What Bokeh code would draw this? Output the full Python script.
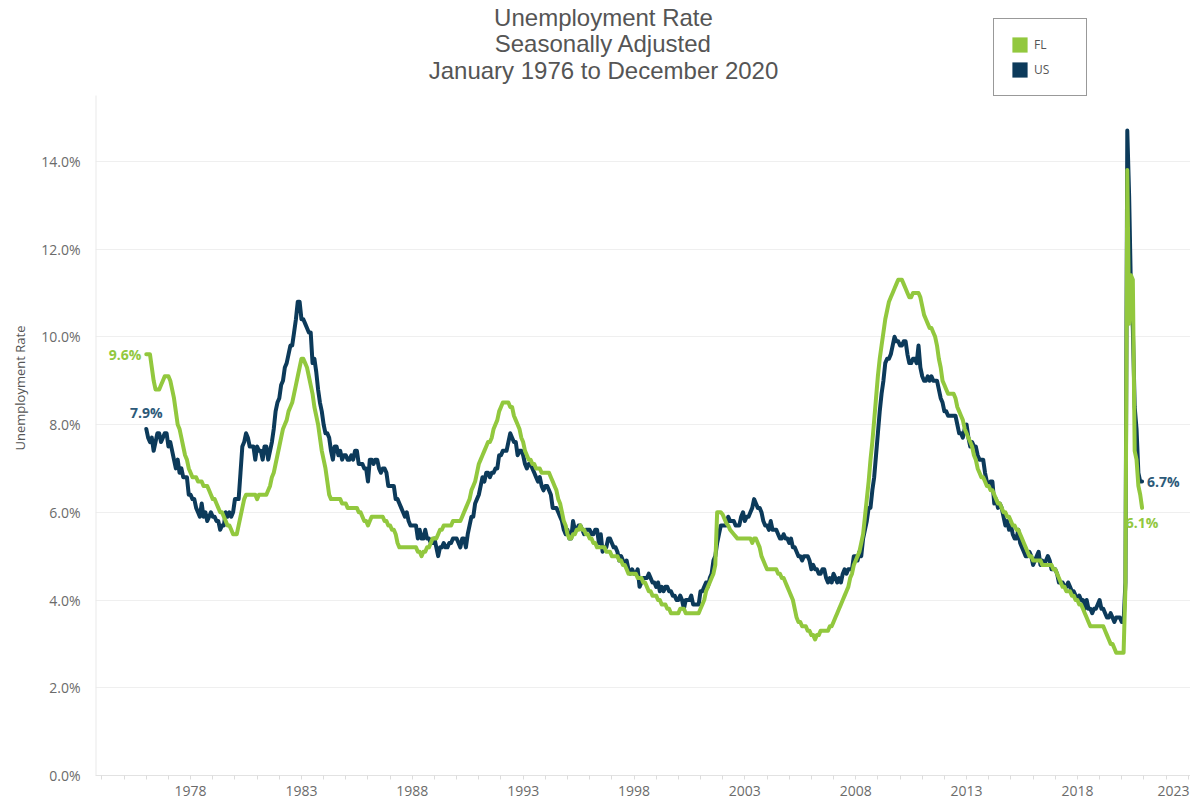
from bokeh.plotting import figure
from bokeh.models import FixedTicker, Label, Legend, LegendItem
from bokeh.embed import file_html
from bokeh.resources import INLINE

# ---------------- data ----------------
start_year = 1976
series_names = ["FL", "US"]

us_rate = [
    7.9, 7.7, 7.6, 7.7, 7.4, 7.6, 7.8, 7.8, 7.6, 7.7, 7.8, 7.8,      # 1976
    7.5, 7.6, 7.4, 7.2, 7.0, 7.2, 6.9, 7.0, 6.8, 6.8, 6.8, 6.4,      # 1977
    6.4, 6.3, 6.3, 6.1, 6.0, 5.9, 6.2, 5.9, 6.0, 5.8, 5.9, 6.0,      # 1978
    5.9, 5.9, 5.8, 5.8, 5.6, 5.7, 5.7, 6.0, 5.9, 6.0, 5.9, 6.0,      # 1979
    6.3, 6.3, 6.3, 6.9, 7.5, 7.6, 7.8, 7.7, 7.5, 7.5, 7.5, 7.2,      # 1980
    7.5, 7.4, 7.4, 7.2, 7.5, 7.5, 7.2, 7.4, 7.6, 7.9, 8.3, 8.5,      # 1981
    8.6, 8.9, 9.0, 9.3, 9.4, 9.6, 9.8, 9.8, 10.1, 10.4, 10.8, 10.8,  # 1982
    10.4, 10.4, 10.3, 10.2, 10.1, 10.1, 9.4, 9.5, 9.2, 8.8, 8.5, 8.3,  # 1983
    8.0, 7.8, 7.8, 7.7, 7.4, 7.2, 7.5, 7.5, 7.3, 7.4, 7.2, 7.3,      # 1984
    7.3, 7.2, 7.2, 7.3, 7.2, 7.4, 7.4, 7.1, 7.1, 7.1, 7.0, 7.0,      # 1985
    6.7, 7.2, 7.2, 7.1, 7.2, 7.2, 7.0, 6.9, 7.0, 7.0, 6.9, 6.6,      # 1986
    6.6, 6.6, 6.6, 6.3, 6.3, 6.2, 6.1, 6.0, 5.9, 6.0, 5.8, 5.7,      # 1987
    5.7, 5.7, 5.7, 5.4, 5.6, 5.4, 5.4, 5.6, 5.4, 5.4, 5.3, 5.3,      # 1988
    5.4, 5.2, 5.0, 5.2, 5.2, 5.3, 5.2, 5.2, 5.3, 5.3, 5.4, 5.4,      # 1989
    5.4, 5.3, 5.2, 5.4, 5.4, 5.2, 5.5, 5.7, 5.9, 5.9, 6.2, 6.3,      # 1990
    6.4, 6.6, 6.8, 6.7, 6.9, 6.9, 6.8, 6.9, 6.9, 7.0, 7.0, 7.3,      # 1991
    7.3, 7.4, 7.4, 7.4, 7.6, 7.8, 7.7, 7.6, 7.6, 7.3, 7.4, 7.4,      # 1992
    7.3, 7.1, 7.0, 7.1, 7.1, 7.0, 6.9, 6.8, 6.7, 6.8, 6.6, 6.5,      # 1993
    6.6, 6.6, 6.5, 6.4, 6.1, 6.1, 6.1, 6.0, 5.9, 5.8, 5.6, 5.5,      # 1994
    5.6, 5.4, 5.4, 5.8, 5.6, 5.6, 5.7, 5.7, 5.6, 5.5, 5.6, 5.6,      # 1995
    5.6, 5.5, 5.5, 5.6, 5.6, 5.3, 5.5, 5.1, 5.2, 5.2, 5.4, 5.4,      # 1996
    5.3, 5.2, 5.2, 5.1, 4.9, 5.0, 4.9, 4.8, 4.9, 4.7, 4.6, 4.7,      # 1997
    4.6, 4.6, 4.7, 4.3, 4.4, 4.5, 4.5, 4.5, 4.6, 4.5, 4.4, 4.4,      # 1998
    4.3, 4.4, 4.2, 4.3, 4.2, 4.3, 4.3, 4.2, 4.2, 4.1, 4.1, 4.0,      # 1999
    4.0, 4.1, 4.0, 3.8, 4.0, 4.0, 4.0, 4.1, 3.9, 3.9, 3.9, 3.9,      # 2000
    4.2, 4.2, 4.3, 4.4, 4.3, 4.5, 4.6, 4.9, 5.0, 5.3, 5.5, 5.7,      # 2001
    5.7, 5.7, 5.7, 5.9, 5.8, 5.8, 5.8, 5.7, 5.7, 5.7, 5.9, 6.0,      # 2002
    5.8, 5.9, 5.9, 6.0, 6.1, 6.3, 6.2, 6.1, 6.1, 6.0, 5.8, 5.7,      # 2003
    5.7, 5.6, 5.8, 5.6, 5.6, 5.6, 5.5, 5.4, 5.4, 5.5, 5.4, 5.4,      # 2004
    5.3, 5.4, 5.2, 5.2, 5.1, 5.0, 5.0, 4.9, 5.0, 5.0, 5.0, 4.9,      # 2005
    4.7, 4.8, 4.7, 4.7, 4.6, 4.6, 4.7, 4.7, 4.5, 4.4, 4.5, 4.4,      # 2006
    4.6, 4.5, 4.4, 4.5, 4.4, 4.6, 4.7, 4.6, 4.7, 4.7, 4.7, 5.0,      # 2007
    5.0, 4.9, 5.1, 5.0, 5.4, 5.6, 5.8, 6.1, 6.1, 6.5, 6.8, 7.3,      # 2008
    7.8, 8.3, 8.7, 9.0, 9.4, 9.5, 9.5, 9.6, 9.8, 10.0, 9.9, 9.9,     # 2009
    9.8, 9.8, 9.9, 9.9, 9.6, 9.4, 9.4, 9.5, 9.5, 9.4, 9.8, 9.3,      # 2010
    9.1, 9.0, 9.0, 9.1, 9.0, 9.1, 9.0, 9.0, 9.0, 8.8, 8.6, 8.5,      # 2011
    8.3, 8.3, 8.2, 8.2, 8.2, 8.2, 8.2, 8.0, 7.8, 7.8, 7.7, 7.9,      # 2012
    8.0, 7.7, 7.5, 7.6, 7.5, 7.5, 7.3, 7.2, 7.2, 7.2, 6.9, 6.7,      # 2013
    6.6, 6.7, 6.7, 6.2, 6.3, 6.1, 6.2, 6.1, 5.9, 5.7, 5.8, 5.6,      # 2014
    5.7, 5.5, 5.4, 5.4, 5.6, 5.3, 5.2, 5.1, 5.0, 5.0, 5.1, 5.0,      # 2015
    4.8, 4.9, 5.0, 5.1, 4.8, 4.9, 4.8, 4.9, 5.0, 4.9, 4.7, 4.7,      # 2016
    4.7, 4.6, 4.4, 4.4, 4.4, 4.3, 4.3, 4.4, 4.3, 4.2, 4.2, 4.1,      # 2017
    4.0, 4.1, 4.0, 4.0, 3.8, 4.0, 3.8, 3.8, 3.7, 3.8, 3.8, 3.9,      # 2018
    4.0, 3.8, 3.8, 3.7, 3.6, 3.6, 3.7, 3.6, 3.5, 3.6, 3.6, 3.6,      # 2019
    3.5, 3.5, 4.4, 14.7, 13.2, 11.0, 10.2, 8.4, 7.9, 6.9, 6.7, 6.7,  # 2020
]

fl_rate = [
    9.6, 9.6, 9.6, 9.3, 9.0, 8.8, 8.8, 8.8, 8.9, 9.0, 9.1, 9.1,      # 1976
    9.1, 9.0, 8.8, 8.6, 8.3, 8.0, 7.9, 7.7, 7.5, 7.3, 7.2, 7.0,      # 1977
    6.9, 6.8, 6.8, 6.8, 6.7, 6.7, 6.7, 6.6, 6.6, 6.6, 6.5, 6.4,      # 1978
    6.3, 6.3, 6.2, 6.1, 6.0, 6.0, 5.9, 5.8, 5.7, 5.7, 5.6, 5.5,      # 1979
    5.5, 5.5, 5.7, 5.9, 6.1, 6.3, 6.4, 6.4, 6.4, 6.4, 6.4, 6.4,      # 1980
    6.3, 6.4, 6.4, 6.4, 6.4, 6.4, 6.5, 6.6, 6.8, 6.9, 7.1, 7.3,      # 1981
    7.5, 7.7, 7.9, 8.0, 8.1, 8.3, 8.4, 8.5, 8.7, 8.9, 9.1, 9.3,      # 1982
    9.5, 9.5, 9.4, 9.3, 9.1, 8.9, 8.7, 8.4, 8.2, 8.0, 7.7, 7.4,      # 1983
    7.2, 7.0, 6.7, 6.4, 6.3, 6.3, 6.3, 6.3, 6.3, 6.3, 6.2, 6.2,      # 1984
    6.2, 6.1, 6.1, 6.1, 6.1, 6.1, 6.1, 6.0, 6.0, 5.9, 5.8, 5.8,      # 1985
    5.7, 5.8, 5.9, 5.9, 5.9, 5.9, 5.9, 5.9, 5.9, 5.8, 5.8, 5.7,      # 1986
    5.7, 5.6, 5.6, 5.5, 5.3, 5.2, 5.2, 5.2, 5.2, 5.2, 5.2, 5.2,      # 1987
    5.2, 5.2, 5.2, 5.1, 5.1, 5.0, 5.1, 5.1, 5.2, 5.2, 5.3, 5.4,      # 1988
    5.4, 5.4, 5.5, 5.6, 5.6, 5.7, 5.7, 5.7, 5.7, 5.7, 5.8, 5.8,      # 1989
    5.8, 5.8, 5.8, 5.9, 6.0, 6.1, 6.2, 6.3, 6.5, 6.6, 6.7, 6.9,      # 1990
    7.1, 7.2, 7.3, 7.4, 7.5, 7.6, 7.6, 7.7, 7.9, 8.0, 8.1, 8.3,      # 1991
    8.4, 8.5, 8.5, 8.5, 8.5, 8.4, 8.4, 8.2, 8.1, 8.0, 7.9, 7.7,      # 1992
    7.6, 7.4, 7.3, 7.2, 7.2, 7.1, 7.1, 7.0, 7.0, 7.0, 6.9, 6.9,      # 1993
    6.9, 6.9, 6.9, 6.8, 6.7, 6.6, 6.5, 6.3, 6.2, 6.0, 5.8, 5.7,      # 1994
    5.5, 5.4, 5.4, 5.5, 5.5, 5.6, 5.6, 5.7, 5.6, 5.6, 5.5, 5.5,      # 1995
    5.4, 5.4, 5.3, 5.3, 5.2, 5.2, 5.2, 5.2, 5.2, 5.1, 5.1, 5.1,      # 1996
    5.0, 5.0, 5.0, 5.0, 4.9, 4.9, 4.8, 4.8, 4.7, 4.6, 4.6, 4.6,      # 1997
    4.6, 4.6, 4.5, 4.5, 4.5, 4.4, 4.4, 4.3, 4.2, 4.2, 4.1, 4.1,      # 1998
    4.1, 4.0, 4.0, 3.9, 3.9, 3.9, 3.8, 3.8, 3.7, 3.7, 3.7, 3.7,      # 1999
    3.7, 3.8, 3.8, 3.8, 3.7, 3.7, 3.7, 3.7, 3.7, 3.7, 3.7, 3.7,      # 2000
    3.8, 3.9, 4.0, 4.2, 4.3, 4.4, 4.5, 4.6, 4.8, 6.0, 6.0, 6.0,      # 2001
    5.95, 5.85, 5.75, 5.7, 5.6, 5.55, 5.5, 5.45, 5.4, 5.4, 5.4, 5.4,  # 2002
    5.4, 5.4, 5.4, 5.4, 5.3, 5.4, 5.4, 5.3, 5.2, 5.0, 4.9, 4.8,      # 2003
    4.7, 4.7, 4.7, 4.7, 4.7, 4.7, 4.6, 4.6, 4.5, 4.5, 4.4, 4.3,      # 2004
    4.2, 4.1, 4.0, 3.8, 3.6, 3.5, 3.5, 3.4, 3.4, 3.4, 3.3, 3.3,      # 2005
    3.2, 3.2, 3.1, 3.2, 3.2, 3.3, 3.3, 3.3, 3.3, 3.3, 3.4, 3.4,      # 2006
    3.5, 3.6, 3.7, 3.8, 3.9, 4.0, 4.1, 4.2, 4.3, 4.5, 4.6, 4.8,      # 2007
    4.9, 5.0, 5.1, 5.3, 5.5, 5.9, 6.3, 6.7, 7.2, 7.6, 8.1, 8.6,      # 2008
    9.1, 9.5, 9.8, 10.1, 10.4, 10.6, 10.8, 10.9, 11.0, 11.1, 11.2, 11.3,  # 2009
    11.3, 11.3, 11.2, 11.1, 11.0, 10.9, 10.9, 11.0, 11.0, 11.0, 11.0, 10.9,  # 2010
    10.7, 10.5, 10.4, 10.3, 10.2, 10.2, 10.1, 10.0, 9.8, 9.5, 9.3, 9.0,  # 2011
    8.9, 8.8, 8.7, 8.7, 8.7, 8.7, 8.6, 8.4, 8.3, 8.2, 8.1, 7.9,      # 2012
    7.8, 7.7, 7.6, 7.5, 7.3, 7.2, 7.0, 6.9, 6.8, 6.8, 6.7, 6.6,      # 2013
    6.6, 6.5, 6.5, 6.4, 6.3, 6.2, 6.2, 6.1, 6.0, 6.0, 5.9, 5.9,      # 2014
    5.8, 5.7, 5.7, 5.6, 5.6, 5.5, 5.4, 5.3, 5.2, 5.1, 5.0, 5.0,      # 2015
    4.9, 4.9, 4.9, 4.9, 4.9, 4.8, 4.8, 4.8, 4.8, 4.8, 4.8, 4.7,      # 2016
    4.7, 4.6, 4.5, 4.4, 4.3, 4.3, 4.2, 4.2, 4.2, 4.1, 4.1, 4.0,      # 2017
    4.0, 3.9, 3.9, 3.8, 3.7, 3.6, 3.5, 3.4, 3.4, 3.4, 3.4, 3.4,      # 2018
    3.4, 3.4, 3.4, 3.3, 3.2, 3.1, 3.0, 3.0, 2.9, 2.8, 2.8, 2.8,      # 2019
    2.8, 2.8, 4.3, 13.8, 10.3, 11.4, 11.3, 7.4, 7.2, 6.6, 6.4, 6.1,  # 2020
]

y_ticks = [0, 2, 4, 6, 8, 10, 12, 14]
y_tick_labels = ["0.0%", "2.0%", "4.0%", "6.0%", "8.0%", "10.0%", "12.0%", "14.0%"]
x_ticks = [1978, 1983, 1988, 1993, 1998, 2003, 2008, 2013, 2018, 2023]
x_tick_labels = ["1978", "1983", "1988", "1993", "1998", "2003", "2008", "2013", "2018", "2023"]
minor_years = list(range(1974, 2024))
title_lines = ["Unemployment Rate", "Seasonally Adjusted", "January 1976 to December 2020"]
y_axis_title = "Unemployment Rate"

# ---------------- layout / styling ----------------
GREEN = "#92c83e"
NAVY = "#0c3a5a"
NAVY_TXT = "#2d5a79"
TICK_FONT = "Open Sans"

W, H = 1190, 800
ML, MB = 95, 25
FW = W - ML
FH = H - MB
FRAME_LEFT = ML
FRAME_BOTTOM = FH
PLOT_TOP = 95                      # page y where the value area ends (y = Y_VIS)
Y_VIS = 15.5
PX_PER_Y = (FRAME_BOTTOM - PLOT_TOP) / Y_VIS
Y_TOP = FH / PX_PER_Y
PX_PER_YEAR = 22.17
X0 = 1973.71
X1 = X0 + FW / PX_PER_YEAR


def dx(px):
    return X0 + (px - FRAME_LEFT) / PX_PER_YEAR


def dy(py):
    return (FRAME_BOTTOM - py) / PX_PER_Y


n = len(us_rate)
t = [start_year + i / 12 for i in range(n)]

p = figure(width=W, height=H, x_range=(X0, X1), y_range=(0, Y_TOP),
           output_backend="svg", toolbar_location=None, tools="",
           min_border_left=ML, min_border_right=0, min_border_top=0,
           min_border_bottom=MB)
p.outline_line_color = None
p.background_fill_color = "white"
p.border_fill_color = "white"

# grid + light left rule
p.xgrid.visible = False
p.ygrid.ticker = FixedTicker(ticks=y_ticks)
p.ygrid.grid_line_color = "#efefef"
p.ygrid.grid_line_width = 1
p.segment(x0=[X0], y0=[0], x1=[X0], y1=[Y_VIS], line_color="#e9e9e9", line_width=2)

# lines
p.line(t, us_rate, line_color=NAVY, line_width=4, line_join="round", line_cap="round")
p.line(t, fl_rate, line_color=GREEN, line_width=4, line_join="round", line_cap="round")

# x axis: last label is drawn shifted inward (as in the original), ticks are yearly
tick_pos, tick_txt = [], {}
for v, s in zip(x_ticks, x_tick_labels):
    pos = v if v < 2020.5 + 2 else round(dx(1173), 2)
    tick_pos.append(pos)
    tick_txt[pos] = s

xa = p.xaxis[0]
xa.ticker = FixedTicker(ticks=tick_pos, minor_ticks=minor_years)
xa.major_label_overrides = tick_txt
xa.axis_line_color = "#e2e2e2"
xa.major_tick_line_color = None
xa.major_tick_in = 0
xa.major_tick_out = 0
xa.minor_tick_line_color = "#dcdcdc"
xa.minor_tick_in = 0
xa.minor_tick_out = 4
xa.major_label_standoff = 6
xa.major_label_text_font = TICK_FONT
xa.major_label_text_font_size = "14px"
xa.major_label_text_color = "#6b6b6b"

ya = p.yaxis[0]
ya.ticker = FixedTicker(ticks=y_ticks)
ya.major_label_overrides = {v: s for v, s in zip(y_ticks, y_tick_labels)}
ya.axis_line_color = None
ya.major_tick_line_color = None
ya.minor_tick_line_color = None
ya.major_label_standoff = 9
ya.major_label_text_font = TICK_FONT
ya.major_label_text_font_size = "14px"
ya.major_label_text_color = "#6b6b6b"
ya.axis_label = y_axis_title
ya.axis_label_text_font = TICK_FONT
ya.axis_label_text_font_size = "13px"
ya.axis_label_text_font_style = "normal"
ya.axis_label_text_color = "#555555"
ya.axis_label_standoff = 9

# title
for line_text, py in zip(title_lines, [17, 43, 70]):
    p.add_layout(Label(x=dx(603), y=dy(py), text=line_text, text_align="center",
                       text_baseline="middle", text_font="Liberation Sans",
                       text_font_size="24px", text_color="#555555"))

# value labels
p.add_layout(Label(x=t[0], y=fl_rate[0], text=f"{fl_rate[0]:.1f}%", x_offset=-5,
                   text_align="right", text_baseline="middle", text_font=TICK_FONT,
                   text_font_size="14px", text_font_style="bold", text_color=GREEN))
p.add_layout(Label(x=t[0], y=us_rate[0], text=f"{us_rate[0]:.1f}%", y_offset=7,
                   text_align="center", text_baseline="bottom", text_font=TICK_FONT,
                   text_font_size="14px", text_font_style="bold", text_color=NAVY_TXT))
p.add_layout(Label(x=t[-1], y=us_rate[-1], text=f"{us_rate[-1]:.1f}%", x_offset=5,
                   text_align="left", text_baseline="middle", text_font=TICK_FONT,
                   text_font_size="14px", text_font_style="bold", text_color=NAVY_TXT))
p.add_layout(Label(x=t[-1], y=fl_rate[-1], text=f"{fl_rate[-1]:.1f}%", y_offset=-5,
                   text_align="center", text_baseline="top", text_font=TICK_FONT,
                   text_font_size="14px", text_font_style="bold", text_color=GREEN))

# legend with square keys (key renderers hold one empty row, never visible)
nan = float("nan")
fl_key = p.quad(left=[nan], right=[nan], top=[nan], bottom=[nan],
                fill_color=GREEN, line_color=None)
us_key = p.quad(left=[nan], right=[nan], top=[nan], bottom=[nan],
                fill_color=NAVY, line_color=None)
legend = Legend(items=[LegendItem(label=series_names[0], renderers=[fl_key]),
                       LegendItem(label=series_names[1], renderers=[us_key])],
                location=(993 - FRAME_LEFT, FRAME_BOTTOM - 96),
                padding=16, spacing=6, margin=0,
                glyph_width=19, glyph_height=19, label_standoff=5,
                label_width=36, label_height=19,
                label_text_font=TICK_FONT, label_text_font_size="12px",
                label_text_color="#555555",
                border_line_color="#333333", border_line_width=1.5,
                background_fill_color="white", background_fill_alpha=1.0)
p.add_layout(legend)

open("out.html", "w").write(file_html(p, INLINE))
